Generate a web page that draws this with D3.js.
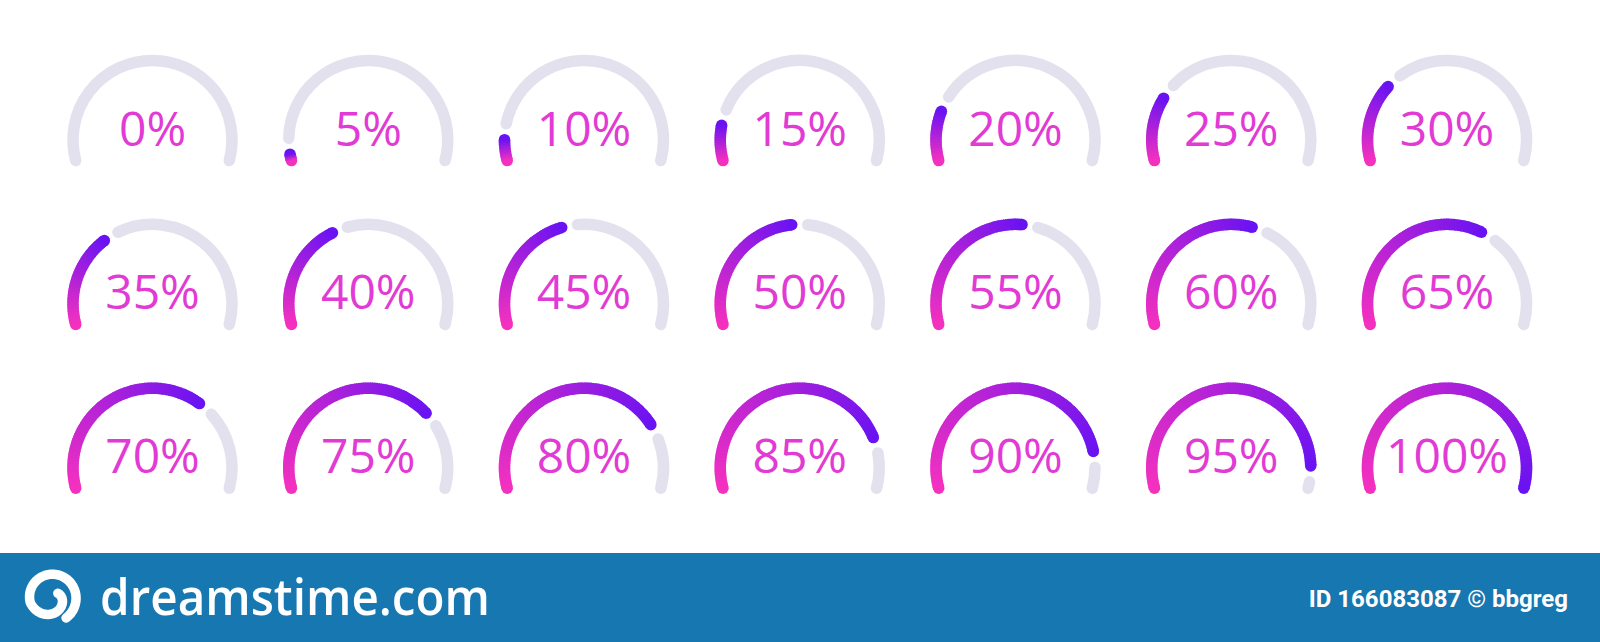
<!DOCTYPE html>
<html><head><meta charset="utf-8">
<script src="https://cdn.jsdelivr.net/npm/d3@7"></script>
<style>html,body{margin:0;padding:0;background:#fff;} svg{display:block;}</style>
</head><body>
<svg id="chart" width="1600" height="642"></svg>
<script>
// ---- data ----
const values = [0,5,10,15,20,25,30,35,40,45,50,55,60,65,70,75,80,85,90,95,100];
const labels = ["0%","5%","10%","15%","20%","25%","30%","35%","40%","45%","50%","55%","60%","65%","70%","75%","80%","85%","90%","95%","100%"];
const columns = [0,1,2,3,4,5,6];
const rows = [0,1,2];
const startColor = "#f431bf";
const endColor = "#6a13f2";
const trackColor = "#e3e1ee";
const labelColor = "#e23ad5";
const brandText = "dreamstime.com";
const creditText = "ID 166083087 \u00A9 bbgreg";

// ---- layout ----
const svg = d3.select("#chart");
const x = d3.scalePoint().domain(columns).range([152.5, 1447]);
const y = d3.scalePoint().domain(rows).range([140, 467.7]);
const deg = Math.PI / 180;
const angle = d3.scaleLinear().domain([0, 100]).range([-105 * deg, 105 * deg]);
const R = 79.5, SW = 11.5, GAP = 8 / R;
const color = d3.interpolateRgb(startColor, endColor);

function arcPath(a0, a1) {
  const p = d3.path();
  p.arc(0, 0, R, a0 - Math.PI / 2, a1 - Math.PI / 2, false);
  return p.toString();
}
function pt(a) { return [R * Math.sin(a), -R * Math.cos(a)]; }

const gauges = svg.selectAll("g.gauge").data(values).join("g")
  .attr("class", "gauge")
  .attr("transform", (d, i) => `translate(${x(columns[i % 7])},${y(rows[Math.floor(i / 7)])})`);

gauges.each(function (v, i) {
  const sel = d3.select(this);
  const a0 = angle(0), aEnd = angle(100), av = angle(v);
  const trackStart = v === 0 ? a0 : av + GAP;
  const progEnd = v === 100 ? aEnd : av - GAP;
  if (trackStart < aEnd) {
    sel.append("path").attr("d", arcPath(trackStart, aEnd))
      .attr("fill", "none").attr("stroke", trackColor)
      .attr("stroke-width", SW).attr("stroke-linecap", "round");
  }
  if (v > 0 && progEnd > a0) {
    const span = progEnd - a0;
    const n = Math.max(6, Math.ceil(span / deg / 1.2));
    const p0 = pt(a0), p1 = pt(progEnd);
    sel.append("circle").attr("cx", p0[0]).attr("cy", p0[1]).attr("r", SW / 2).attr("fill", color(0));
    sel.append("circle").attr("cx", p1[0]).attr("cy", p1[1]).attr("r", SW / 2).attr("fill", color(1));
    for (let k = 0; k < n; k++) {
      const t0 = a0 + span * k / n;
      const t1 = Math.min(progEnd, a0 + span * (k + 1) / n + 0.6 * deg);
      sel.append("path").attr("d", arcPath(t0, t1))
        .attr("fill", "none").attr("stroke", color((k + 0.5) / n))
        .attr("stroke-width", SW).attr("stroke-linecap", "butt");
    }
  }
  sel.append("text").attr("x", 0).attr("y", 5.5)
    .attr("text-anchor", "middle")
    .attr("font-family", "'Open Sans', 'Noto Sans', sans-serif")
    .attr("font-size", 48).attr("font-weight", 400)
    .attr("fill", labelColor)
    .text(labels[i]);
});

// ---- banner ----
svg.append("rect").attr("x", 0).attr("y", 553).attr("width", 1600).attr("height", 89).attr("fill", "#1677b1");

// spiral logo: near-full outer ring winding inward
const endA = 145 * deg;
const outerR = 25, innerR = 7.5;
const spiralPts = d3.range(0, 241).map(k => {
  const t = k / 240;                       // 0 = outer end, 1 = inner end
  const a = endA - t * 2.0 * Math.PI * 1.25;
  const r = t < 0.55 ? outerR - 3 * (t / 0.55) : (outerR - 3) - (outerR - 3 - innerR) * ((t - 0.55) / 0.45);
  return [a, r];
});
svg.append("path")
  .attr("transform", "translate(51.7,597.5)")
  .attr("d", d3.lineRadial().curve(d3.curveCatmullRom)(spiralPts))
  .attr("fill", "none").attr("stroke", "#fff").attr("stroke-width", 9.5).attr("stroke-linecap", "round");

svg.append("text").attr("x", 100).attr("y", 615)
  .attr("font-family", "'Open Sans', sans-serif").attr("font-weight", 600)
  .attr("font-size", 50).attr("fill", "#fff")
  .attr("textLength", 390).attr("lengthAdjust", "spacingAndGlyphs")
  .text(brandText);

svg.append("text").attr("x", 1568).attr("y", 607)
  .attr("text-anchor", "end")
  .attr("font-family", "Roboto, sans-serif").attr("font-weight", 700)
  .attr("font-size", 24).attr("fill", "#fff")
  .text(creditText);
</script>
</body></html>
